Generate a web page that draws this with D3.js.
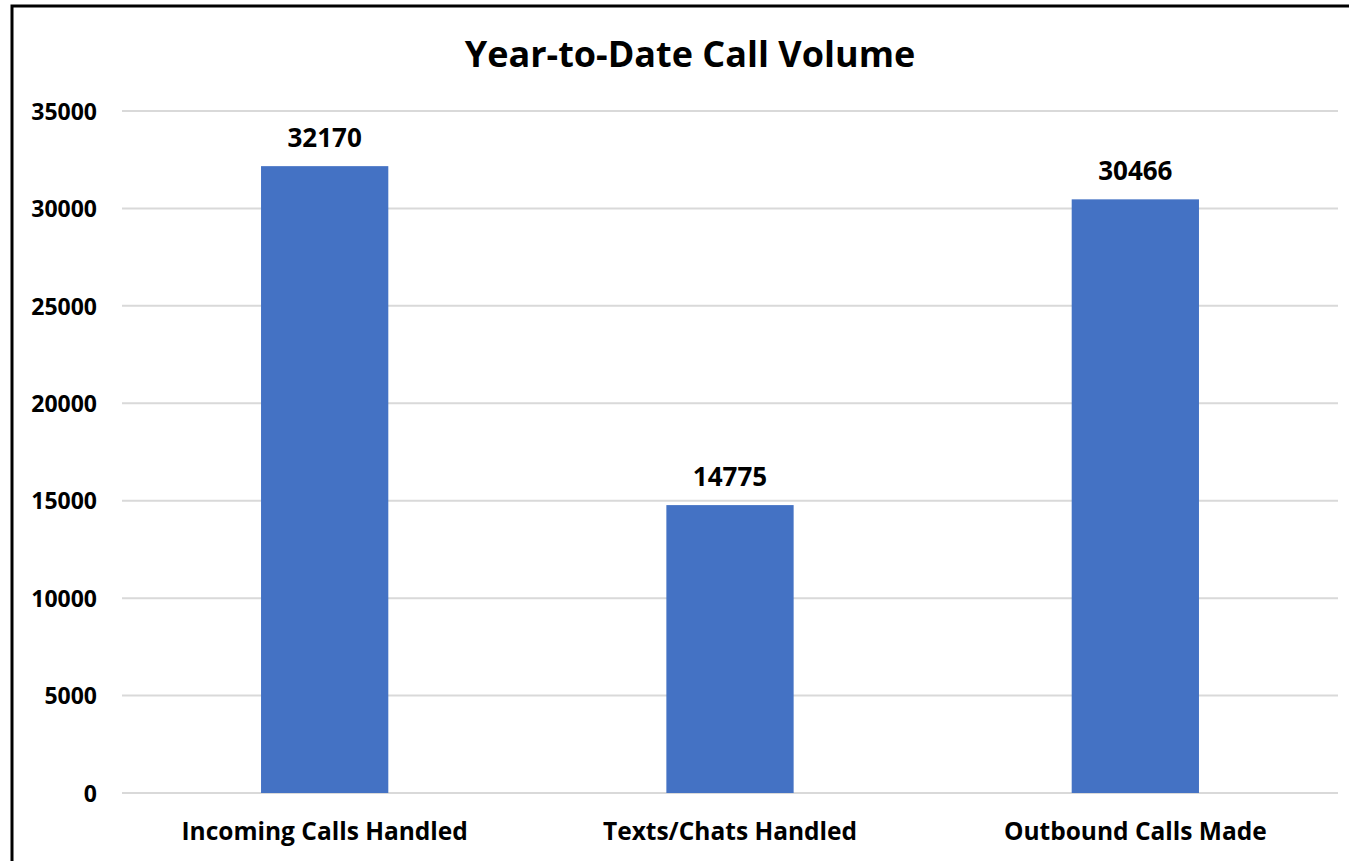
<!DOCTYPE html>
<meta charset="utf-8">
<style>
body { margin: 0; background: #fff; }
svg { display: block; font-family: "Open Sans", Lato, sans-serif; }
.grid line { stroke: #d9d9d9; stroke-width: 2px; }
.axis text { font-family: "Open Sans", Lato, sans-serif; font-weight: bold; font-size: 23px; fill: #000; }
.labels text { font-weight: bold; font-size: 26px; fill: #000; }
</style>
<body>
  <svg width="1349" height="861"></svg>
</body>
<script src="https://cdn.jsdelivr.net/npm/d3@7"></script>
<script>

var categories = ["Incoming Calls Handled", "Texts/Chats Handled", "Outbound Calls Made"];
var values = [32170, 14775, 30466];
var yTicks = [0, 5000, 10000, 15000, 20000, 25000, 30000, 35000];

var svg = d3.select("svg"),
    width = +svg.attr("width"),
    height = +svg.attr("height");

// chart frame, runs off the right and bottom of the picture
svg.append("rect")
    .attr("x", 12).attr("y", 6)
    .attr("width", width + 20).attr("height", height + 20)
    .attr("fill", "none")
    .attr("stroke", "#000")
    .attr("stroke-width", 3);

var plotLeft = 122, plotRight = 1338, plotTop = 111, plotBottom = 793;

var x = d3.scaleBand()
    .domain(categories)
    .range([plotLeft, plotRight])
    .paddingInner(0.686)
    .paddingOuter(0.343);

var y = d3.scaleLinear()
    .domain([0, 35000])
    .range([plotBottom, plotTop]);

svg.append("text")
    .attr("x", 690)
    .attr("y", 67)
    .attr("text-anchor", "middle")
    .style("font-weight", "bold")
    .style("font-size", "36px")
    .text("Year-to-Date Call Volume");

svg.append("g")
    .attr("class", "grid")
  .selectAll("line")
  .data(yTicks)
  .enter().append("line")
    .attr("x1", plotLeft).attr("x2", plotRight)
    .attr("y1", function(d) { return y(d); })
    .attr("y2", function(d) { return y(d); });

var yAxis = svg.append("g")
    .attr("class", "axis")
    .attr("transform", "translate(" + (plotLeft - 25) + ",0)")
    .call(d3.axisLeft(y).tickValues(yTicks).tickSize(0).tickPadding(0).tickFormat(d3.format("d")));
yAxis.select(".domain").remove();
yAxis.selectAll("text").attr("dy", "0.36em");

svg.append("g")
  .selectAll("rect")
  .data(values)
  .enter().append("rect")
    .attr("x", function(d, i) { return x(categories[i]); })
    .attr("width", x.bandwidth())
    .attr("y", function(d) { return y(d); })
    .attr("height", function(d) { return plotBottom - y(d); })
    .attr("fill", "#4472c4");

svg.append("g")
    .attr("class", "labels")
  .selectAll("text")
  .data(values)
  .enter().append("text")
    .attr("x", function(d, i) { return x(categories[i]) + x.bandwidth() / 2; })
    .attr("y", function(d) { return y(d) - 19; })
    .attr("text-anchor", "middle")
    .text(function(d) { return d; });

var xAxis = svg.append("g")
    .attr("class", "axis")
    .attr("transform", "translate(0," + plotBottom + ")")
    .call(d3.axisBottom(x).tickSize(0).tickPadding(0));
xAxis.select(".domain").remove();
xAxis.selectAll("text")
    .attr("dy", null)
    .attr("y", 47)
    .style("font-size", "24.5px");

</script>
